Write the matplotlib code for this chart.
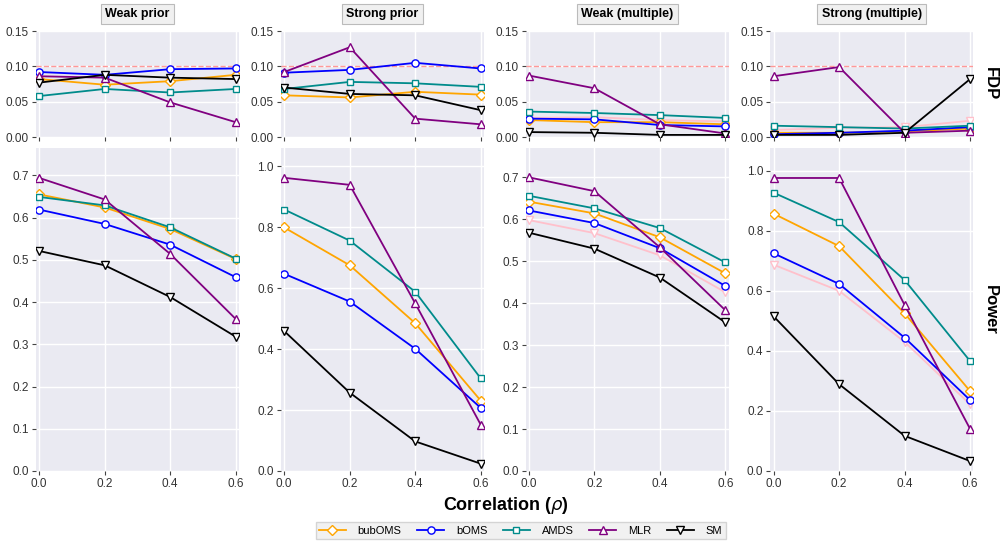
import numpy as np
import matplotlib.pyplot as plt
from matplotlib.ticker import FormatStrFormatter

# ============================================================
# DATA
# ============================================================

RHO = [0.0, 0.2, 0.4, 0.6]
PANELS = ["Weak prior", "Strong prior", "Weak (multiple)", "Strong (multiple)"]
METHODS = ["bubOMS", "bOMS", "AMDS", "MLR", "SM"]

# FDP (top row), one list per panel
fdp_bubOMS = [[0.082, 0.074, 0.079, 0.088], [0.059, 0.056, 0.064, 0.060],
              [0.024, 0.021, 0.021, 0.018], [0.006, 0.006, 0.008, 0.012]]
fdp_bOMS = [[0.092, 0.088, 0.096, 0.097], [0.091, 0.095, 0.105, 0.097],
            [0.026, 0.025, 0.017, 0.015], [0.004, 0.006, 0.009, 0.014]]
fdp_AMDS = [[0.058, 0.068, 0.063, 0.068], [0.068, 0.078, 0.076, 0.071],
            [0.036, 0.034, 0.031, 0.027], [0.016, 0.014, 0.012, 0.016]]
fdp_MLR = [[0.086, 0.084, 0.049, 0.021], [0.092, 0.127, 0.026, 0.018],
           [0.087, 0.069, 0.018, 0.005], [0.086, 0.099, 0.006, 0.009]]
fdp_SM = [[0.077, 0.088, 0.084, 0.082], [0.070, 0.061, 0.059, 0.038],
          [0.007, 0.006, 0.003, 0.003], [0.003, 0.003, 0.006, 0.082]]
fdp_extra = [None, None,
             [0.027, 0.028, 0.024, 0.022], [0.010, 0.013, 0.014, 0.023]]

# Power (bottom row)
pow_bubOMS = [[0.655, 0.624, 0.573, 0.502], [0.799, 0.675, 0.485, 0.231],
              [0.642, 0.614, 0.557, 0.471], [0.857, 0.749, 0.525, 0.266]]
pow_bOMS = [[0.619, 0.585, 0.536, 0.459], [0.647, 0.556, 0.401, 0.207],
            [0.621, 0.591, 0.531, 0.441], [0.725, 0.623, 0.444, 0.236]]
pow_AMDS = [[0.649, 0.629, 0.577, 0.503], [0.858, 0.756, 0.588, 0.304],
            [0.656, 0.626, 0.579, 0.497], [0.927, 0.829, 0.636, 0.366]]
pow_MLR = [[0.694, 0.643, 0.514, 0.360], [0.962, 0.939, 0.550, 0.152],
           [0.700, 0.667, 0.533, 0.383], [0.976, 0.976, 0.553, 0.140]]
pow_SM = [[0.521, 0.487, 0.412, 0.318], [0.459, 0.257, 0.097, 0.024],
          [0.568, 0.530, 0.461, 0.354], [0.515, 0.289, 0.117, 0.033]]
pow_extra = [None, None,
             [0.598, 0.567, 0.514, 0.426], [0.687, 0.600, 0.430, 0.222]]

FDP = [fdp_bubOMS, fdp_bOMS, fdp_AMDS, fdp_MLR, fdp_SM]
POWER = [pow_bubOMS, pow_bOMS, pow_AMDS, pow_MLR, pow_SM]

COLORS = ["orange", "blue", "#008B8B", "purple", "black"]
MARKERS = ["D", "o", "s", "^", "v"]
MSIZES = [4.6, 5.2, 5.0, 5.4, 5.4]

POWER_YMAX = [0.765, 1.06, 0.77, 1.076]

# ============================================================
# FIGURE
# ============================================================

plt.rcParams["font.family"] = ["Liberation Sans", "DejaVu Sans"]

fig = plt.figure(figsize=(10.07, 5.47), dpi=100)

lefts = [0.0357, 0.279, 0.522, 0.765]
width = 0.2016
top_box = (0.7495, 0.1938)
bot_box = (0.139, 0.5905)

BG = "#EAEAF2"
TICKC = "#444444"


def style_axis(ax):
    ax.set_facecolor(BG)
    for s in ax.spines.values():
        s.set_visible(False)
    ax.grid(True, color="white", lw=1.0)
    ax.set_axisbelow(True)
    ax.tick_params(direction="out", length=3, width=0.8, color=TICKC,
                   labelcolor="#333333", labelsize=8.5, pad=2)
    ax.set_xlim(-0.01, 0.61)
    ax.set_xticks(RHO)


for ip in range(4):
    ax_t = fig.add_axes([lefts[ip], top_box[0], width, top_box[1]])
    ax_b = fig.add_axes([lefts[ip], bot_box[0], width, bot_box[1]])

    for ax, data, extra in [(ax_t, FDP, fdp_extra), (ax_b, POWER, pow_extra)]:
        style_axis(ax)
        if extra[ip] is not None:
            ax.plot(RHO, extra[ip], color="pink", marker="v", ms=5.4,
                    mfc="white", mew=1.0, lw=1.3)
        for im in range(len(METHODS)):
            ax.plot(RHO, data[im][ip], color=COLORS[im], marker=MARKERS[im],
                    ms=MSIZES[im], mfc="white", mew=1.0, lw=1.3,
                    label=METHODS[im] if ip == 0 and ax is ax_b else None)

    ax_t.axhline(0.1, color="#FF7F7F", ls="--", lw=1.0, alpha=0.8, zorder=1.5)
    ax_t.set_ylim(0, 0.15)
    ax_t.set_yticks([0, 0.05, 0.10, 0.15])
    ax_t.yaxis.set_major_formatter(FormatStrFormatter("%.2f"))
    ax_t.tick_params(axis="x", labelbottom=False)

    ax_b.set_ylim(0, POWER_YMAX[ip])
    if POWER_YMAX[ip] > 1:
        ax_b.set_yticks(np.arange(0, 1.01, 0.2))
    else:
        ax_b.set_yticks(np.arange(0, 0.71, 0.1))
    ax_b.yaxis.set_major_formatter(FormatStrFormatter("%.1f"))
    ax_b.xaxis.set_major_formatter(FormatStrFormatter("%.1f"))

    ax_t.text(0.5, 1.16, PANELS[ip], transform=ax_t.transAxes,
              ha="center", va="center", fontsize=9, fontweight="bold",
              bbox=dict(boxstyle="square,pad=0.35", fc="#F0F0F0",
                        ec="#BBBBBB", lw=0.8))

    if ip == 0:
        handles, labels = ax_b.get_legend_handles_labels()

# row labels
fig.text(0.983, top_box[0] + top_box[1] / 2, "FDP", rotation=270,
         ha="center", va="center", fontsize=12, fontweight="bold")
fig.text(0.983, bot_box[0] + bot_box[1] / 2, "Power", rotation=270,
         ha="center", va="center", fontsize=12, fontweight="bold")

fig.text(0.502, 0.075, r"Correlation ($\rho$)", ha="center", va="center",
         fontsize=13, fontweight="bold")

leg = fig.legend(handles, labels, loc="center", bbox_to_anchor=(0.517, 0.030),
                 ncol=5, fontsize=8, frameon=True, handlelength=2.4,
                 handletextpad=1.1, columnspacing=1.4, borderpad=0.3,
                 fancybox=False)
leg.get_frame().set_facecolor("#EEEEEE")
leg.get_frame().set_edgecolor("#CCCCCC")

plt.savefig("out.png", dpi=100)
